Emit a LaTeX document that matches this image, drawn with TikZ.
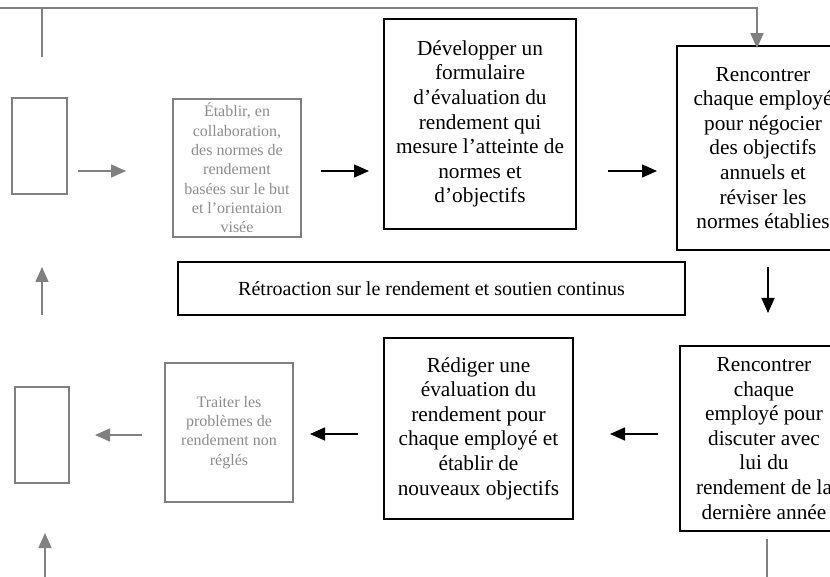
\documentclass[tikz,border=0pt]{standalone}
\usepackage{fontspec}
\setmainfont{Liberation Serif}
\usetikzlibrary{arrows.meta}

\definecolor{gris}{RGB}{128,128,128}
\definecolor{gristexte}{RGB}{140,140,140}

\tikzset{
  boite/.style={draw=black, line width=1.6pt, align=center, inner sep=0pt,
    font=\fontsize{21.3}{24.6}\selectfont},
  boitegrise/.style={draw=gris, line width=1.6pt, align=center, inner sep=0pt,
    text=gristexte, font=\fontsize{16}{19.3}\selectfont},
  fleche/.style={line width=1.6pt, -{Triangle[length=15pt,width=13pt]}},
  flechegrise/.style={fleche, draw=gris},
}

\begin{document}
\begin{tikzpicture}[x=1pt,y=-1pt]
\useasboundingbox (0,0) rectangle (830,577);

% Rangee du haut
\node[boitegrise, minimum width=55pt, minimum height=96pt] (videhaut) at (39.5,146) {};
\node[boitegrise, minimum width=128pt, minimum height=138pt] (etablir) at (237,168)
  {Établir, en\\collaboration,\\des normes de\\rendement\\basées sur le but\\et l’orientaion\\visée};
\node[boite, minimum width=192pt, minimum height=210pt] (developper) at (480,124)
  {Développer un\\formulaire\\d’évaluation du\\rendement qui\\mesure l’atteinte de\\normes et\\d’objectifs};
\node[boite, minimum width=172pt, minimum height=204pt] (negocier) at (763,148)
  {Rencontrer\\chaque employé\\pour négocier\\des objectifs\\annuels et\\réviser les\\normes établies};

% Bande du milieu
\node[boite, line width=2.2pt, minimum width=507pt, minimum height=53pt,
  font=\fontsize{20}{24}\selectfont] (retro) at (431.5,288.5)
  {Rétroaction sur le rendement et soutien continus};

% Rangee du bas
\node[boite, minimum width=168pt, minimum height=185pt] (discuter) at (764,438.5)
  {Rencontrer\\chaque\\employé pour\\discuter avec\\lui du\\rendement de la\\dernière année};
\node[boite, minimum width=189pt, minimum height=181pt] (rediger) at (478.5,428.5)
  {Rédiger une\\évaluation du\\rendement pour\\chaque employé et\\établir de\\nouveaux objectifs};
\node[boitegrise, minimum width=128pt, minimum height=139pt] (traiter) at (229,432.5)
  {Traiter les\\problèmes de\\rendement non\\réglés};
\node[boitegrise, minimum width=54pt, minimum height=96pt] (videbas) at (42,435) {};

% Bouts des fleches
\coordinate (h1a) at (78,171);   \coordinate (h1b) at (126,171);
\coordinate (h2a) at (321,171);  \coordinate (h2b) at (369,171);
\coordinate (h3a) at (608,171);  \coordinate (h3b) at (657,171);
\coordinate (boucle) at (42,57);
\coordinate (d1a) at (768,267);  \coordinate (d1b) at (768,313);
\coordinate (u1a) at (42,315);   \coordinate (u1b) at (42,267);
\coordinate (b1a) at (658,434);  \coordinate (b1b) at (610,434);
\coordinate (b2a) at (358,434);  \coordinate (b2b) at (310,434);
\coordinate (b3a) at (142,435);  \coordinate (b3b) at (95,435);
\coordinate (u2a) at (45,577);   \coordinate (u2b) at (45,533);
\coordinate (sortie) at (767,577);

\draw[flechegrise] (h1a) -- (h1b);
\draw[fleche] (h2a) -- (h2b);
\draw[fleche] (h3a) -- (h3b);
\draw[flechegrise] (boucle) |- (0,8) -| ([yshift=-3pt]negocier.north -| 757,0);
\draw[fleche] (d1a) -- (d1b);
\draw[flechegrise] (u1a) -- (u1b);
\draw[fleche] (b1a) -- (b1b);
\draw[fleche] (b2a) -- (b2b);
\draw[flechegrise] (b3a) -- (b3b);
\draw[flechegrise] (u2a) -- (u2b);
\draw[draw=gris, line width=1.6pt] (discuter.south -| sortie) ++(0,7) -- (sortie);

\end{tikzpicture}
\end{document}
